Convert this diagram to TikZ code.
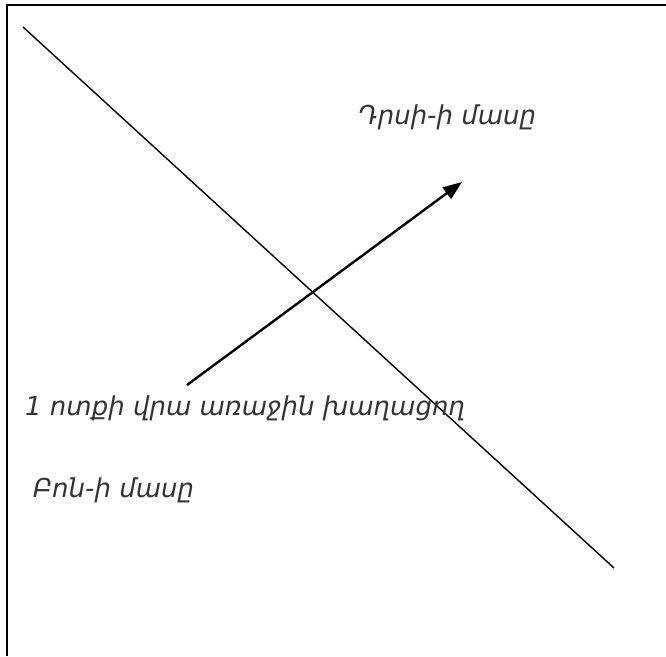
\documentclass[tikz,border=0pt]{standalone}
\usepackage{fontspec}
\setmainfont{DejaVu Sans}
\usetikzlibrary{arrows.meta}
\tikzset{
  grutyun/.style={font=\itshape\fontsize{26}{30}\selectfont, text=black!80, inner sep=0pt, anchor=west},
  gic/.style={line width=1.4pt},
  slaq/.style={-{Triangle[length=19pt,width=14pt]}, line width=2.4pt},
  shrjanak/.style={line width=2pt},
}

\begin{document}
\begin{tikzpicture}[x=1pt, y=-1pt]
    \useasboundingbox (0,0) rectangle (666,656);
    % shrjanak
    \draw[shrjanak] (7,656) -- (7,5) -- (666,5);
    % sahmanagic
    \coordinate (g1) at (23,27);
    \coordinate (g2) at (614,568);
    \draw[gic] (g1) -- (g2);
    % texter
    \node[grutyun] (durs) at (358,117) {Դրսի-ի մասը};
    \node[grutyun] (xaxacox) at (25,408) {1 ոտքի վրա առաջին խաղացող};
    \node[grutyun] (bun) at (33,490) {Բոն-ի մասը};
    % slaq
    \coordinate (s1) at (187,385);
    \coordinate (s2) at (462,182);
    \draw[slaq] (s1) -- (s2);
\end{tikzpicture}
\end{document}
